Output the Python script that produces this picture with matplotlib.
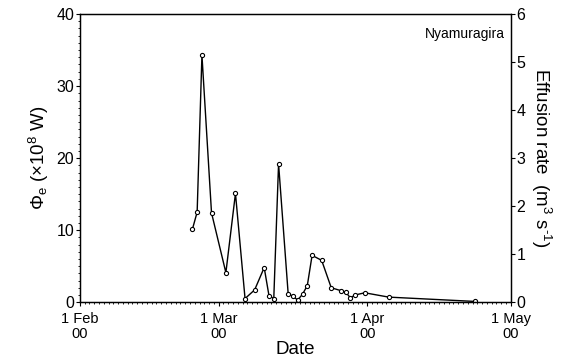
import datetime as dt
import matplotlib
matplotlib.use("Agg")
import matplotlib.pyplot as plt
import matplotlib.dates as mdates
from matplotlib.ticker import MultipleLocator

plt.rcParams['font.family'] = ['Liberation Sans', 'DejaVu Sans']
plt.rcParams['mathtext.fontset'] = 'custom'
plt.rcParams['mathtext.rm'] = 'Liberation Sans'
plt.rcParams['mathtext.it'] = 'Liberation Sans:italic'

# observation times (days after 1 Feb 2000) and radiant heat flux (x10^8 W)
start = dt.datetime(2000, 2, 1)
day_offsets = [23.5, 24.5, 25.5, 27.5, 30.5, 32.5, 34.5, 36.5, 38.5, 39.5,
               40.5, 41.5, 43.5, 44.5, 45.5, 46.5, 47.5, 48.5, 50.5, 52.5,
               54.5, 55.5, 56.5, 57.5, 59.5, 64.5, 82.5]
phi_e = [10.1, 12.5, 34.3, 12.4, 4.1, 15.1, 0.5, 1.7, 4.8, 0.9,
         0.5, 19.2, 1.2, 0.8, 0.3, 1.1, 2.3, 6.5, 5.8, 2.0,
         1.6, 1.4, 0.6, 1.0, 1.3, 0.7, 0.1]
dates = [start + dt.timedelta(days=d) for d in day_offsets]

tick_dates = [dt.datetime(2000, 2, 1), dt.datetime(2000, 3, 1),
              dt.datetime(2000, 4, 1), dt.datetime(2000, 5, 1)]
tick_labels = ["1 Feb\n00", "1 Mar\n00", "1 Apr\n00", "1 May\n00"]

fig, ax = plt.subplots(figsize=(5.62, 3.61), dpi=100)
fig.subplots_adjust(left=0.142, right=0.909, top=0.961, bottom=0.163)

ax.plot(dates, phi_e, color='black', lw=1.0, marker='o', ms=3,
        mfc='white', mec='black', mew=0.8)

ax.set_xlim(tick_dates[0], tick_dates[-1])
ax.set_ylim(0, 40)
ax.set_xticks(tick_dates)
ax.set_xticklabels(tick_labels, fontsize=10.5, linespacing=1.1,
                   multialignment='center')
ax.xaxis.set_minor_locator(mdates.DayLocator())
ax.yaxis.set_major_locator(MultipleLocator(10))
ax.yaxis.set_minor_locator(MultipleLocator(1))
ax.tick_params(axis='y', which='major', direction='out', length=3, width=0.8,
               labelsize=11.5, pad=1)
ax.tick_params(axis='x', which='major', direction='out', length=3, width=0.8,
               pad=4)
ax.tick_params(axis='both', which='minor', direction='out', length=1.5, width=0.6)
ax.set_xlabel("Date", fontsize=13.5, labelpad=0)
ax.set_ylabel(r"$\Phi_\mathrm{e}$ ($\times$10$^8$ W)", fontsize=13.5, labelpad=4)

ax2 = ax.twinx()
ax2.set_ylim(0, 6)
ax2.yaxis.set_major_locator(MultipleLocator(1))
ax2.tick_params(axis='y', direction='out', length=3, width=0.8, labelsize=11.5, pad=1)
ax2.set_ylabel("Effusion rate  (m$^3$ s$^{\u2010 1}$)", fontsize=13.5, rotation=270,
               labelpad=20)

for a in (ax, ax2):
    for s in a.spines.values():
        s.set_linewidth(0.9)

ax.text(0.985, 0.955, "Nyamuragira", transform=ax.transAxes, ha='right', va='top',
        fontsize=10)

plt.savefig("out.png", dpi=100)
